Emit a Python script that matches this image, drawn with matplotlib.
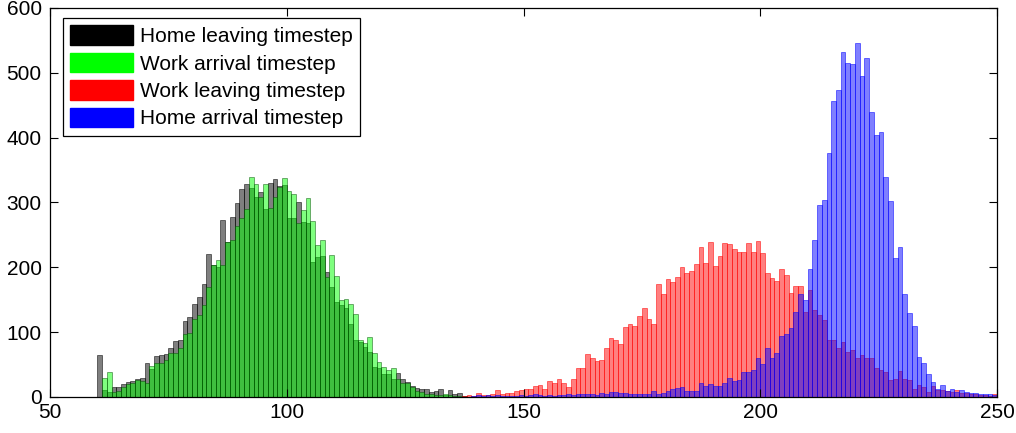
import matplotlib
matplotlib.use("Agg")
import matplotlib.pyplot as plt
from matplotlib.patches import Patch
import numpy as np

plt.rcParams["font.family"] = ["Liberation Sans", "DejaVu Sans"]

# histogram counts per timestep (first bin given separately)
home_leave_start = 60
home_leave = [65, 11, 8, 16, 16, 20, 23, 25, 27, 30, 53, 43, 64, 65, 66, 75, 87, 88, 117, 123,
              144, 155, 174, 220, 203, 200, 273, 239, 278, 299, 321, 329, 322, 309, 316, 290,
              330, 336, 326, 327, 276, 276, 301, 270, 268, 208, 216, 217, 193, 169, 147, 142,
              137, 113, 88, 85, 77, 70, 47, 44, 36, 36, 28, 37, 27, 23, 17, 14, 13, 12, 8, 10,
              12, 3, 11, 5, 6, 2]

work_arrive_start = 60
work_arrive = [0, 29, 38, 8, 10, 16, 20, 22, 26, 24, 21, 48, 52, 53, 57, 68, 68, 76, 97, 99,
               120, 126, 142, 170, 203, 211, 204, 239, 242, 264, 276, 290, 340, 328, 309, 329,
               291, 309, 324, 338, 317, 313, 268, 288, 307, 271, 234, 242, 185, 219, 187, 150,
               151, 144, 128, 88, 83, 93, 68, 54, 46, 42, 44, 28, 22, 21, 16, 10, 8, 5, 4, 3,
               3, 4, 3, 2, 2]

work_leave_start = 137
work_leave = [2, 3, 2, 6, 3, 3, 5, 11, 4, 6, 6, 9, 11, 12, 12, 17, 18, 13, 24, 22, 27, 21, 16,
              27, 44, 44, 67, 60, 55, 57, 75, 91, 88, 82, 108, 113, 110, 125, 137, 121, 112,
              174, 159, 182, 177, 185, 200, 191, 194, 205, 232, 206, 239, 202, 218, 237, 236,
              228, 224, 224, 238, 223, 240, 222, 192, 183, 179, 198, 188, 161, 171, 171, 131,
              165, 134, 126, 118, 88, 88, 75, 85, 70, 73, 60, 65, 60, 60, 45, 42, 38, 26, 28,
              40, 28, 26, 13, 18, 15, 8, 17, 11, 11, 9, 7, 11, 6, 6, 5, 4, 3, 3, 2, 4]

home_arrive_start = 139
home_arrive = [2, 3, 1, 3, 2, 3, 2, 1, 2, 2, 3, 2, 3, 4, 3, 2, 3, 2, 3, 3, 4, 3, 4, 5, 4, 4, 3,
               6, 4, 7, 8, 6, 6, 5, 5, 4, 4, 5, 10, 5, 6, 9, 12, 14, 16, 10, 9, 10, 21, 17, 20,
               17, 17, 21, 29, 25, 26, 38, 38, 42, 60, 51, 76, 60, 68, 94, 97, 106, 131, 159,
               150, 197, 242, 296, 304, 376, 456, 473, 532, 515, 513, 546, 495, 523, 439, 404,
               409, 339, 302, 214, 232, 159, 130, 109, 61, 53, 35, 23, 13, 18, 9, 12, 7, 11, 7,
               6, 6, 5, 4, 4, 3]

labels = ["Home leaving timestep", "Work arrival timestep",
          "Work leaving timestep", "Home arrival timestep"]
colors = [(0, 0, 0), (0, 1, 0), (1, 0, 0), (0, 0, 1)]
# bar outlines: same hue, but the green one darker like the original
edge_colors = [(0, 0, 0, 0.6), (0, 0.3, 0, 0.55), (1, 0, 0, 0.6), (0, 0, 1, 0.6)]
series = [(home_leave_start, home_leave), (work_arrive_start, work_arrive),
          (work_leave_start, work_leave), (home_arrive_start, home_arrive)]

fig = plt.figure(figsize=(10.16, 4.33), dpi=100)
ax = fig.add_axes([50 / 1016, 1 - 397 / 433, 947 / 1016, 389 / 433])

for (start, counts), c, ec in zip(series, colors, edge_colors):
    edges = start + np.arange(len(counts))
    ax.bar(edges, counts, width=1.0, align="edge",
           facecolor=(*c, 0.5), edgecolor=ec, linewidth=0.6)

ax.set_xlim(50, 250)
ax.set_ylim(0, 600)
ax.set_xticks(np.arange(50, 251, 50))
ax.set_yticks(np.arange(0, 601, 100))
ax.tick_params(direction="in", length=6, width=0.8, top=True, right=True,
               labelsize=15, colors="black")
ax.tick_params(axis="y", pad=6)
ax.tick_params(axis="x", pad=4)
for sp in ax.spines.values():
    sp.set_linewidth(0.9)

handles = [Patch(facecolor=c, edgecolor=c) for c in colors]
leg = ax.legend(handles, labels, loc="upper left", bbox_to_anchor=(0.0137, 0.974),
                borderaxespad=0, fontsize=15, handlelength=3.0, handleheight=1.05,
                handletextpad=0.35, labelspacing=0.32, borderpad=0.35,
                fancybox=False, framealpha=1, edgecolor="black")
leg.get_frame().set_linewidth(0.9)

fig.savefig("out.png", dpi=100)
